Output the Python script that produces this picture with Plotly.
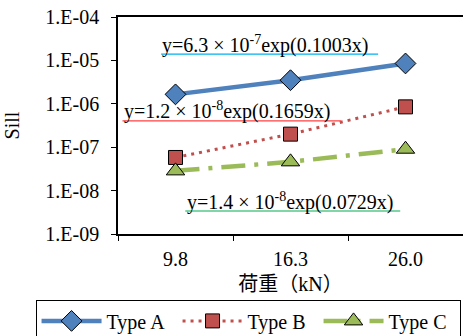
import plotly.graph_objects as go

categories = ["9.8", "16.3", "26.0"]
type_a = [1.65e-6, 3.5e-6, 8.5e-6]
type_b = [5.8e-8, 2.0e-7, 8.5e-7]
type_c = [2.85e-8, 4.6e-8, 9.0e-8]
ytick_vals = [1e-9, 1e-8, 1e-7, 1e-6, 1e-5, 1e-4]
ytick_text = ["1.E-09", "1.E-08", "1.E-07", "1.E-06", "1.E-05", "1.E-04"]
eq_a = "y=6.3 × 10<sup>-7</sup>exp(0.1003x)"
eq_b = "y=1.2 × 10<sup>-8</sup>exp(0.1659x)"
eq_c = "y=1.4 × 10<sup>-8</sup>exp(0.0729x)"

FONT = "Times New Roman, Liberation Serif, DejaVu Serif, serif"
FS = 20

fig = go.Figure()
fig.add_trace(go.Scatter(
    x=categories, y=type_a, name="Type A", mode="lines+markers",
    line=dict(color="#4F81BD", width=4.5),
    marker=dict(symbol="diamond", size=16, color="#4F81BD", line=dict(color="black", width=1))))
fig.add_trace(go.Scatter(
    x=categories, y=type_b, name="Type B", mode="lines+markers",
    line=dict(color="#C0504D", width=3, dash="3px,5px"),
    marker=dict(symbol="square", size=14, color="#C0504D", line=dict(color="black", width=1))))
fig.add_trace(go.Scatter(
    x=categories, y=type_c, name="Type C", mode="lines+markers",
    line=dict(color="#9BBB59", width=4.5, dash="24px,9px,4px,9px"),
    marker=dict(symbol="triangle-up", size=16, color="#9BBB59", line=dict(color="black", width=1))))

annos = [
    (eq_a, 0.122, 0.875),
    (eq_b, 0.013, 0.567),
    (eq_c, 0.193, 0.152),
]
for txt, x, y in annos:
    fig.add_annotation(text=txt, x=x, y=y, xref="paper", yref="paper",
                       xanchor="left", yanchor="middle", showarrow=False,
                       font=dict(family=FONT, size=FS, color="black"))

underlines = [
    (0.125, 0.754, 0.829, "#00B0F0"),
    (0.013, 0.646, 0.521, "#FF4040"),
    (0.195, 0.818, 0.106, "#00B050"),
]
for x0, x1, y, c in underlines:
    fig.add_shape(type="line", xref="paper", yref="paper", x0=x0, x1=x1, y0=y, y1=y,
                  line=dict(color=c, width=1.2))

fig.update_layout(
    width=463, height=336,
    margin=dict(l=118, r=0, t=17, b=102, autoexpand=False),
    paper_bgcolor="white", plot_bgcolor="white",
    font=dict(family=FONT, size=FS, color="black"),
    showlegend=True,
    legend=dict(orientation="h", x=-0.239, y=-0.306, xanchor="left", yanchor="top",
                bordercolor="black", borderwidth=1, font=dict(family=FONT, size=FS),
                itemwidth=60, entrywidth=66, tracegroupgap=0),
    xaxis=dict(type="category", range=[-0.5, 2.5], showgrid=False, automargin=False,
               showline=True, linecolor="black", linewidth=1.5, mirror=True,
               ticks="outside", tickson="boundaries", ticklen=5, tickcolor="black",
               ticklabelstandoff=6,
               tickfont=dict(family=FONT, size=FS),
               title=dict(text="荷重（kN）", standoff=8,
                          font=dict(family="Times New Roman, Liberation Serif, Noto Sans CJK JP", size=FS))),
    yaxis=dict(type="log", range=[-9, -4], showgrid=False, automargin=False,
               tickvals=ytick_vals, ticktext=ytick_text,
               showline=True, linecolor="black", linewidth=1.5,
               ticks="outside", ticklen=5, tickcolor="black",
               ticklabelstandoff=8,
               tickfont=dict(family=FONT, size=FS),
               title=dict(text="Sill", standoff=20, font=dict(family=FONT, size=FS))),
)

fig.write_html("out.html", config={"displayModeBar": False},
               post_script="document.body.style.margin='0px';")
